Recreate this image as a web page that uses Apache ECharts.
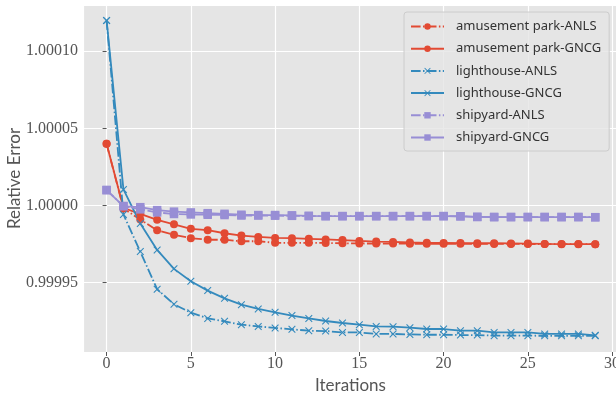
<!DOCTYPE html>
<html><head><meta charset="utf-8">
<script src="https://cdn.jsdelivr.net/npm/echarts@6/dist/echarts.min.js"></script>
<style>html,body{margin:0;padding:0;background:#fff}#c{width:616px;height:393px}</style>
</head><body><div id="c"></div>
<script>
const iterations = [0,1,2,3,4,5,6,7,8,9,10,11,12,13,14,15,16,17,18,19,20,21,22,23,24,25,26,27,28,29];

const amusementANLS = [1.000040, 0.9999980, 0.9999909, 0.9999839, 0.9999810, 0.9999788, 0.9999778, 0.9999778, 0.9999768, 0.9999768,
  0.9999758, 0.9999758, 0.9999758, 0.9999757, 0.9999755, 0.9999754, 0.9999753, 0.9999753, 0.9999752, 0.9999752,
  0.9999752, 0.9999752, 0.9999751, 0.9999751, 0.9999751, 0.9999750, 0.9999750, 0.9999749, 0.9999749, 0.9999749];
const amusementGNCG = [1.000040, 0.9999985, 0.9999945, 0.9999907, 0.9999878, 0.9999849, 0.9999840, 0.9999820, 0.9999805, 0.9999796,
  0.9999790, 0.9999788, 0.9999784, 0.9999780, 0.9999776, 0.9999770, 0.9999766, 0.9999764, 0.9999760, 0.9999758,
  0.9999757, 0.9999756, 0.9999755, 0.9999755, 0.9999754, 0.9999753, 0.9999751, 0.9999750, 0.9999750, 0.9999749];
const lighthouseANLS = [1.000120, 0.9999942, 0.9999701, 0.9999457, 0.9999359, 0.9999305, 0.9999268, 0.9999249, 0.9999227, 0.9999216,
  0.9999206, 0.9999197, 0.9999188, 0.9999186, 0.9999177, 0.9999177, 0.9999167, 0.9999167, 0.9999164, 0.9999162,
  0.9999162, 0.9999160, 0.9999160, 0.9999156, 0.9999156, 0.9999156, 0.9999155, 0.9999155, 0.9999155, 0.9999155];
const lighthouseGNCG = [1.000120, 1.0000104, 0.9999883, 0.9999712, 0.9999589, 0.9999509, 0.9999448, 0.9999398, 0.9999357, 0.9999329,
  0.9999307, 0.9999286, 0.9999268, 0.9999251, 0.9999238, 0.9999227, 0.9999216, 0.9999214, 0.9999208, 0.9999199,
  0.9999199, 0.9999188, 0.9999188, 0.9999177, 0.9999177, 0.9999177, 0.9999167, 0.9999167, 0.9999167, 0.9999158];
const shipyardANLS = [1.000010, 0.9999996, 0.9999975, 0.9999955, 0.9999945, 0.9999942, 0.9999940, 0.9999938, 0.9999935, 0.9999935,
  0.9999934, 0.9999933, 0.9999931, 0.9999931, 0.9999931, 0.9999931, 0.9999931, 0.9999931, 0.9999931, 0.9999931,
  0.9999931, 0.9999930, 0.9999926, 0.9999925, 0.9999925, 0.9999925, 0.9999925, 0.9999925, 0.9999925, 0.9999924];
const shipyardGNCG = [1.000010, 0.9999996, 0.9999989, 0.9999970, 0.9999960, 0.9999955, 0.9999950, 0.9999946, 0.9999940, 0.9999938,
  0.9999938, 0.9999936, 0.9999933, 0.9999931, 0.9999931, 0.9999931, 0.9999931, 0.9999931, 0.9999931, 0.9999931,
  0.9999931, 0.9999930, 0.9999926, 0.9999925, 0.9999925, 0.9999925, 0.9999925, 0.9999925, 0.9999925, 0.9999924];

const seriesNames = ['amusement park-ANLS','amusement park-GNCG','lighthouse-ANLS','lighthouse-GNCG','shipyard-ANLS','shipyard-GNCG'];
const seriesValues = [amusementANLS, amusementGNCG, lighthouseANLS, lighthouseGNCG, shipyardANLS, shipyardGNCG];

const RED = '#E24A33', BLUE = '#348ABD', PURPLE = '#988ED5';
const colors = [RED, RED, BLUE, BLUE, PURPLE, PURPLE];
const XMARK = 'path://M0,1L1,0L5,4L9,0L10,1L6,5L10,9L9,10L5,6L1,10L0,9L4,5Z';
const symbols = ['circle','circle', XMARK, XMARK, 'rect','rect'];
const symbolSizes = [8,8,7.5,7.5,8.5,8.5];
const DASHDOT = [9.6, 2.4, 1.5, 2.4];

const series = seriesNames.map((name, i) => ({
  name: name,
  type: 'line',
  data: iterations.map((x, k) => [x, seriesValues[i][k]]),
  symbol: symbols[i],
  symbolSize: symbolSizes[i],
  showAllSymbol: true,
  animation: false,
  lineStyle: { color: colors[i], width: 1.8, type: (i % 2 === 0) ? DASHDOT : 'solid' },
  itemStyle: { color: colors[i], borderWidth: 0 },
  emphasis: { disabled: true }
}));

const chart = echarts.init(document.getElementById('c'), null, { renderer: 'canvas' });
chart.setOption({
  animation: false,
  backgroundColor: '#ffffff',
  grid: { left: 83, top: 5, right: -2, bottom: 41, show: true, backgroundColor: '#E5E5E5', borderWidth: 0,
    containLabel: false, outerBoundsMode: 'none' },
  xAxis: {
    type: 'value', min: -1.4, max: 30.35,
    name: 'Iterations', nameLocation: 'middle', nameGap: 20,
    nameTextStyle: { fontFamily: 'Lato', fontSize: 17, color: '#555555' },
    axisLine: { show: false },
    axisTick: { show: true, length: 4, lineStyle: { color: '#555555', width: 1 } },
    axisLabel: { showMinLabel: false, showMaxLabel: false, fontFamily: 'Liberation Serif', fontSize: 16, color: '#555555', margin: 4 },
    splitLine: { show: true, lineStyle: { color: '#ffffff', width: 1.2 } }
  },
  yAxis: {
    type: 'value', min: 0.999905, max: 1.00013, scale: true,
    name: 'Relative Error', nameLocation: 'middle', nameGap: 60, nameMoveOverlap: false,
    nameTextStyle: { fontFamily: 'Lato', fontSize: 17, color: '#555555' },
    axisLine: { show: false },
    axisTick: { show: true, length: 4, lineStyle: { color: '#555555', width: 1 } },
    axisLabel: { showMinLabel: false, showMaxLabel: false, fontFamily: 'Liberation Serif', fontSize: 16, color: '#555555', margin: 5,
      formatter: v => v.toFixed(5) },
    splitLine: { show: true, lineStyle: { color: '#ffffff', width: 1.2 } }
  },
  legend: {
    data: seriesNames,
    orient: 'vertical', left: 404, top: 12,
    itemWidth: 33, itemHeight: 8, itemGap: 9.2,
    padding: [8, 8, 7, 6],
    backgroundColor: 'rgba(229,229,229,0.8)', borderColor: '#CCCCCC', borderWidth: 1, borderRadius: 3,
    textStyle: { fontFamily: 'Noto Sans', fontSize: 13, color: '#333333', padding: [0, 0, 0, 7] }
  },
  series: series
});
</script></body></html>
